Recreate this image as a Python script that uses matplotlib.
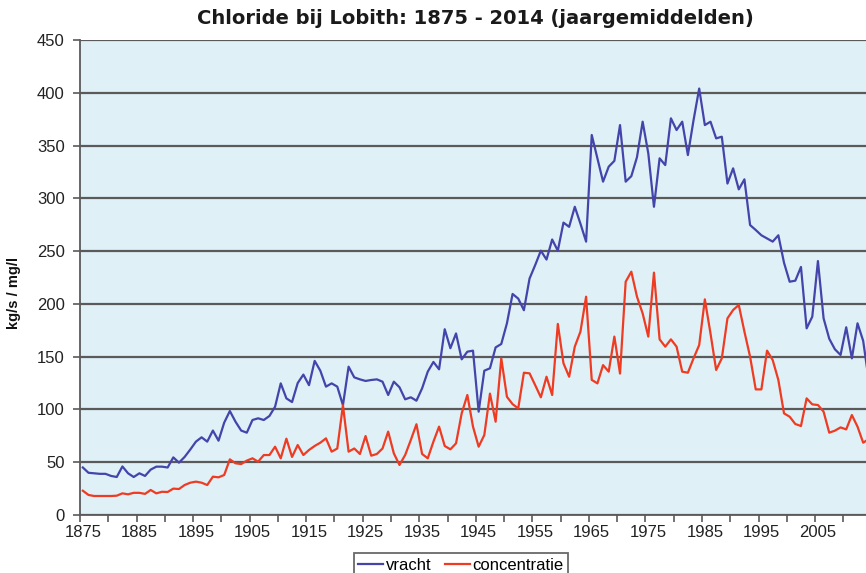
import matplotlib
matplotlib.use("Agg")
import matplotlib.pyplot as plt
import numpy as np

years = list(range(1875, 2015))

vracht = [
    45, 40, 39.5, 39, 39, 37, 36, 46, 39.5, 36,                      # 1875-1884
    39.5, 37, 43, 45.8, 45.8, 45, 54.6, 49.6, 55, 62,                # 1885-1894
    69.5, 73.6, 69.5, 80, 70.4, 87.5, 98.5, 88.4, 80, 78,            # 1895-1904
    90, 91.6, 90, 93.8, 102.6, 124.7, 110.5, 107, 125, 133,          # 1905-1914
    123, 146, 136.7, 121.6, 124.7, 121.6, 104, 140.5, 130.4, 128.5,  # 1915-1924
    127, 127.9, 128.5, 126.3, 113.7, 126.3, 121, 109.6, 111.5, 108.3,  # 1925-1934
    120, 135.8, 145, 138, 176, 158, 172, 147.5, 154.7, 155.7,        # 1935-1944
    97.9, 136.7, 139, 158.8, 162, 181.6, 209.4, 205, 194, 224,       # 1945-1954
    236.8, 250.4, 242, 261, 250.4, 277, 273, 292, 276, 259,          # 1955-1964
    360, 338, 315.8, 330, 335.5, 369.4, 315.8, 321, 339, 372.6,      # 1965-1974
    342.6, 292, 337.9, 331.5, 375.8, 364.7, 372.6, 341, 374, 404,    # 1975-1984
    369.4, 372.6, 356.8, 358.4, 314, 328.4, 308.5, 318, 274.7, 270,  # 1985-1994
    265, 262, 259, 265, 239, 221, 222, 235, 176.8, 187.9,            # 1995-2004
    240.6, 186.3, 167, 157, 151.6, 177.8, 148.4, 181.6, 165, 127,    # 2005-2014
]

concentratie = [
    23, 19, 18, 18, 18, 18, 18.3, 20.5, 19.6, 21,                    # 1875-1884
    21, 20, 23.7, 20.5, 22, 21.8, 25, 24.6, 28.4, 30.6,              # 1885-1894
    31.6, 30.6, 28.4, 36.3, 35.7, 37.9, 52.7, 49, 48.3, 51.5,        # 1895-1904
    53.7, 50.5, 56.8, 56.8, 64.7, 53.7, 72.3, 55, 66.3, 56.8,        # 1905-1914
    61.6, 65.4, 68.5, 72.6, 60, 63, 104, 60, 63, 57.8,               # 1915-1924
    74.8, 56.2, 57.8, 63, 79, 58.4, 47.4, 56.8, 71, 86,              # 1925-1934
    57.8, 53.7, 69.5, 83.7, 65.4, 62.2, 67.9, 96.3, 113.7, 83.7,     # 1935-1944
    64.7, 75.8, 115, 88.4, 148.4, 112, 105, 101, 134.8, 134.2,       # 1945-1954
    123, 111.5, 131, 113.7, 181, 143.7, 131, 159.5, 173.7, 206.8,    # 1955-1964
    128, 124.7, 142, 135.8, 169, 134, 221, 230.5, 206.8, 191,        # 1965-1974
    169, 229.6, 166.4, 159.5, 166.4, 159.5, 135.8, 134.8, 148.4, 161,  # 1975-1984
    204.3, 172, 137.4, 148.4, 186.3, 194.2, 199, 173.7, 150, 119,    # 1985-1994
    119, 155.7, 146.8, 127.9, 96.3, 93.1, 86.2, 84.3, 110.5, 104.8,  # 1995-2004
    104.2, 97.9, 78, 79.9, 83, 81.1, 94.7, 83.7, 68.5, 72,           # 2005-2014
]

label_years = list(range(1875, 2006, 10))
yticks = list(range(0, 451, 50))

title = "Chloride bij Lobith: 1875 - 2014 (jaargemiddelden)"
ylabel = "kg/s / mg/l"
series_names = ["vracht", "concentratie"]

blue = "#4444aa"
red = "#ee3b22"
bg = "#dff0f7"
grid_c = "#5a5a5a"

plt.rcParams['font.family'] = ['Liberation Sans', 'DejaVu Sans']

fig = plt.figure(figsize=(8.66, 5.73), dpi=100)
ax = fig.add_axes([80 / 866, 1 - 515 / 573, 1 - 80 / 866, (515 - 40) / 573])
ax.set_facecolor(bg)

ax.plot(years, vracht, color=blue, lw=1.6, label=series_names[0], zorder=3)
ax.plot(years, concentratie, color=red, lw=1.6, label=series_names[1], zorder=3)

ax.set_xlim(1874.5, 2013.5)
ax.set_ylim(0, 450)

ax.set_yticks(yticks)
ax.yaxis.grid(True, color=grid_c, lw=1.6, zorder=1)
ax.set_axisbelow(True)

# category boundaries as tick marks, labels at category centres
boundaries = np.arange(1874.5, 2014, 5)
ax.set_xticks(boundaries)
ax.set_xticklabels([])
ax.set_xticks(label_years, minor=True)
ax.set_xticklabels([str(y) for y in label_years], minor=True)
ax.tick_params(axis='x', which='major', length=5, width=1.2, color=grid_c, direction='out')
ax.tick_params(axis='x', which='minor', length=0, pad=7, labelsize=12, labelcolor='#222222')
ax.tick_params(axis='y', length=5, width=1.2, color=grid_c, pad=6, labelsize=12, labelcolor='#222222')

for s in ['top', 'right']:
    ax.spines[s].set_visible(False)
for s in ['left', 'bottom']:
    ax.spines[s].set_color(grid_c)
    ax.spines[s].set_linewidth(1.3)

fig.text(14 / 866, 1 - 293 / 573, ylabel, rotation=90, ha='center', va='center',
         fontsize=10.5, fontweight='bold', color='#111111')

fig.text(475 / 866, 1 - 18 / 573, title, ha='center', va='center',
         fontsize=14, fontweight='bold', family=['DejaVu Sans'], color='#1a1a1a')

leg = fig.legend(loc='upper center', bbox_to_anchor=(461 / 866, 1 - 545 / 573), ncol=2,
                 frameon=True, fancybox=False, fontsize=12, handlelength=1.5,
                 handletextpad=0.15, columnspacing=0.8, borderpad=0.25)
leg.get_frame().set_edgecolor('#444444')
leg.get_frame().set_linewidth(1.3)

fig.savefig("out.png", dpi=100)
